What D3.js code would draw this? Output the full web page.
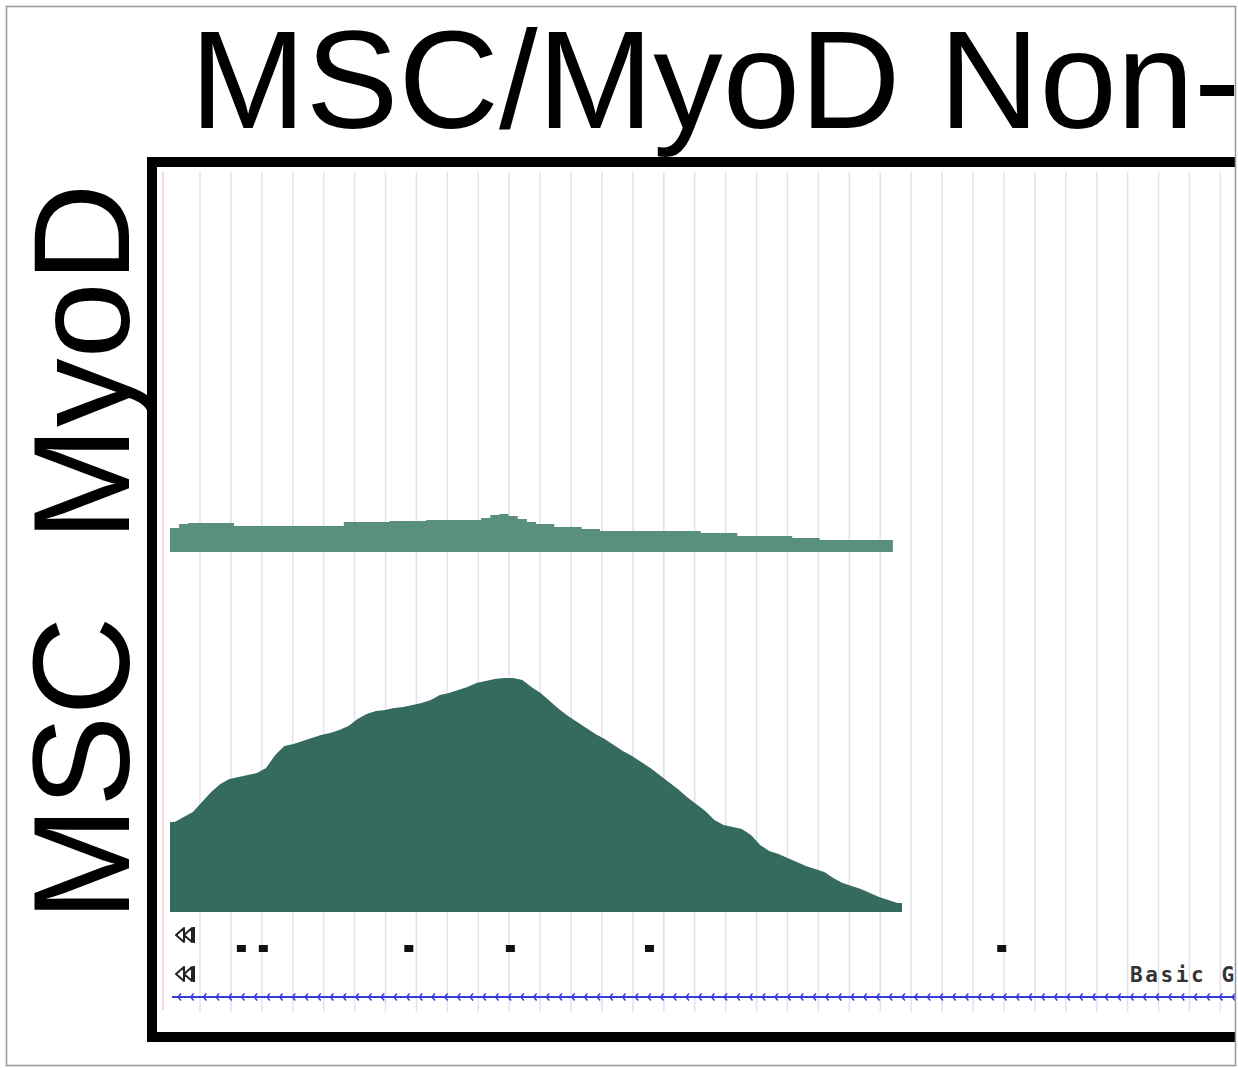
<!DOCTYPE html>
<html>
<head>
<meta charset="utf-8">
<script src="https://cdn.jsdelivr.net/npm/d3@7"></script>
<style>
  body { margin: 0; background: #fff; }
</style>
</head>
<body>
<div id="chart"></div>
<script>
// ---- data ----
var chartTitle = "MSC/MyoD Non-";
var trackNames = ["MyoD", "MSC"];
var geneTrackLabel = "Basic G";

// signal per bin (bin width ~9 px on screen), arbitrary read units
var myodSignal = [
  24, 28, 29, 29, 29, 29, 29, 26, 26, 26,
  26, 26, 26, 26, 26, 26, 26, 26, 26, 30,
  30, 30, 30, 30, 31, 31, 31, 31, 32, 32,
  32, 32, 32, 32, 34, 37, 38, 36, 33, 30,
  28, 28, 25, 25, 25, 23, 23, 21, 21, 21,
  21, 21, 21, 21, 21, 21, 21, 21, 19, 19,
  19, 19, 16, 16, 16, 16, 16, 16, 14, 14,
  14, 12, 12, 12, 12, 12, 12, 12, 12
];
var mscSignal = [
  90, 95, 100, 110, 120, 128, 133, 135, 137, 139,
  144, 157, 166, 168, 171, 174, 177, 179, 182, 186,
  193, 198, 201, 202, 204, 205, 207, 209, 212, 217,
  219, 222, 225, 229, 231, 233, 234, 234, 232, 225,
  219, 211, 203, 196, 190, 184, 178, 173, 167, 161,
  156, 150, 144, 137, 130, 123, 115, 108, 101, 92,
  87, 85, 83, 77, 67, 61, 58, 54, 50, 46,
  43, 40, 34, 29, 26, 23, 19, 15, 12, 9
];
// small feature blocks (bin positions)
var featureBins = [7.8, 10.2, 26.1, 37.2, 52.4, 90.9];

// ---- layout ----
var W = 1238, H = 1068;
var clipRight = 1235;

var svg = d3.select("#chart").append("svg")
    .attr("width", W)
    .attr("height", H)
    .style("display", "block");

svg.append("defs").append("clipPath")
    .attr("id", "pageclip")
  .append("rect")
    .attr("x", 0).attr("y", 0)
    .attr("width", clipRight).attr("height", H);

var g = svg.append("g").attr("clip-path", "url(#pageclip)");

var x = d3.scaleLinear().domain([0, 80]).range([170, 902]);
var yMyod = d3.scaleLinear().domain([0, 40]).range([552, 512]);
var yMsc = d3.scaleLinear().domain([0, 240]).range([912, 672]);

// title
g.append("text")
    .attr("x", 190)
    .attr("y", 128)
    .attr("font-family", "Liberation Sans, Arial, sans-serif")
    .attr("font-size", 139)
    .attr("fill", "#000")
    .text(chartTitle);

// side labels
var labelPos = [541, 921];
g.selectAll(".trackname")
    .data(trackNames)
    .enter()
    .append("text")
    .attr("class", "trackname")
    .attr("transform", function (d, i) { return "translate(129," + labelPos[i] + ") rotate(-90)"; })
    .attr("font-family", "Liberation Sans, Arial, sans-serif")
    .attr("font-size", 137)
    .attr("fill", "#000")
    .text(function (d) { return d; });

// browser panel background
g.append("rect")
    .attr("x", 157).attr("y", 167)
    .attr("width", clipRight - 157).attr("height", 865)
    .attr("fill", "#fff");

// vertical grid
g.selectAll(".grid")
    .data(d3.range(200, clipRight, 30.92))
    .enter()
    .append("line")
    .attr("class", "grid")
    .attr("x1", function (d) { return d; })
    .attr("x2", function (d) { return d; })
    .attr("y1", 172).attr("y2", 1012)
    .attr("stroke", "#e2e2f4")
    .attr("stroke-width", 1.6);

g.append("line")
    .attr("x1", 163).attr("x2", 163)
    .attr("y1", 172).attr("y2", 1010)
    .attr("stroke", "#f2c9d2")
    .attr("stroke-width", 1.5);

// MyoD track (step)
var myodPts = myodSignal.map(function (v, i) { return [i, v]; });
myodPts.push([myodSignal.length, myodSignal[myodSignal.length - 1]]);
g.append("path")
    .datum(myodPts)
    .attr("fill", "#598f7f")
    .attr("d", d3.area()
        .curve(d3.curveStepAfter)
        .x(function (d) { return x(d[0]); })
        .y0(yMyod(0))
        .y1(function (d) { return yMyod(d[1]); }));

// MSC track
var mscPts = [[0, mscSignal[0]]];
mscSignal.forEach(function (v, i) { mscPts.push([i + 0.5, v]); });
mscPts.push([mscSignal.length, mscSignal[mscSignal.length - 1]]);
g.append("path")
    .datum(mscPts)
    .attr("fill", "#356b5e")
    .attr("d", d3.area()
        .x(function (d) { return x(d[0]); })
        .y0(yMsc(0))
        .y1(function (d) { return yMsc(d[1]); }));

// strand arrows
function backArrow(cy) {
    var a = g.append("g").attr("transform", "translate(185," + cy + ")");
    a.append("path")
        .attr("d", "M-9,0 L-1,-7 L-1,7 Z M-1,0 L7,-7 L7,7 Z")
        .attr("fill", "#fff")
        .attr("stroke", "#222")
        .attr("stroke-width", 2)
        .attr("stroke-linejoin", "round");
    a.append("line")
        .attr("x1", 9).attr("x2", 9).attr("y1", -8).attr("y2", 8)
        .attr("stroke", "#222").attr("stroke-width", 2);
}
backArrow(935);
backArrow(974);

// feature blocks
g.selectAll(".feat")
    .data(featureBins)
    .enter()
    .append("rect")
    .attr("class", "feat")
    .attr("x", function (d) { return x(d) - 4.5; })
    .attr("y", 945)
    .attr("width", 9)
    .attr("height", 7)
    .attr("fill", "#111");

// gene track label
g.append("text")
    .attr("x", 1130)
    .attr("y", 982)
    .attr("font-family", "DejaVu Sans Mono, monospace")
    .attr("font-weight", "bold")
    .attr("font-size", 21)
    .attr("letter-spacing", 2.6)
    .attr("fill", "#333")
    .text(geneTrackLabel);

// gene line with strand ticks
g.append("line")
    .attr("x1", 172).attr("x2", clipRight)
    .attr("y1", 997).attr("y2", 997)
    .attr("stroke", "#3a3ad8")
    .attr("stroke-width", 2);
g.selectAll(".tick")
    .data(d3.range(178, clipRight, 12.7))
    .enter()
    .append("path")
    .attr("class", "tick")
    .attr("d", function (d) { return "M" + (d + 3) + ",993.5 L" + d + ",997 L" + (d + 3) + ",1000.5"; })
    .attr("fill", "none")
    .attr("stroke", "#3a3ad8")
    .attr("stroke-width", 1.5);

// black frame
g.append("rect")
    .attr("x", 152).attr("y", 162)
    .attr("width", 1200).attr("height", 875)
    .attr("fill", "none")
    .attr("stroke", "#000")
    .attr("stroke-width", 10);

// outer grey border
svg.append("rect")
    .attr("x", 6.5).attr("y", 6.5)
    .attr("width", clipRight - 6).attr("height", 1059)
    .attr("fill", "none")
    .attr("stroke", "#999")
    .attr("stroke-width", 1.5);
</script>
</body>
</html>
